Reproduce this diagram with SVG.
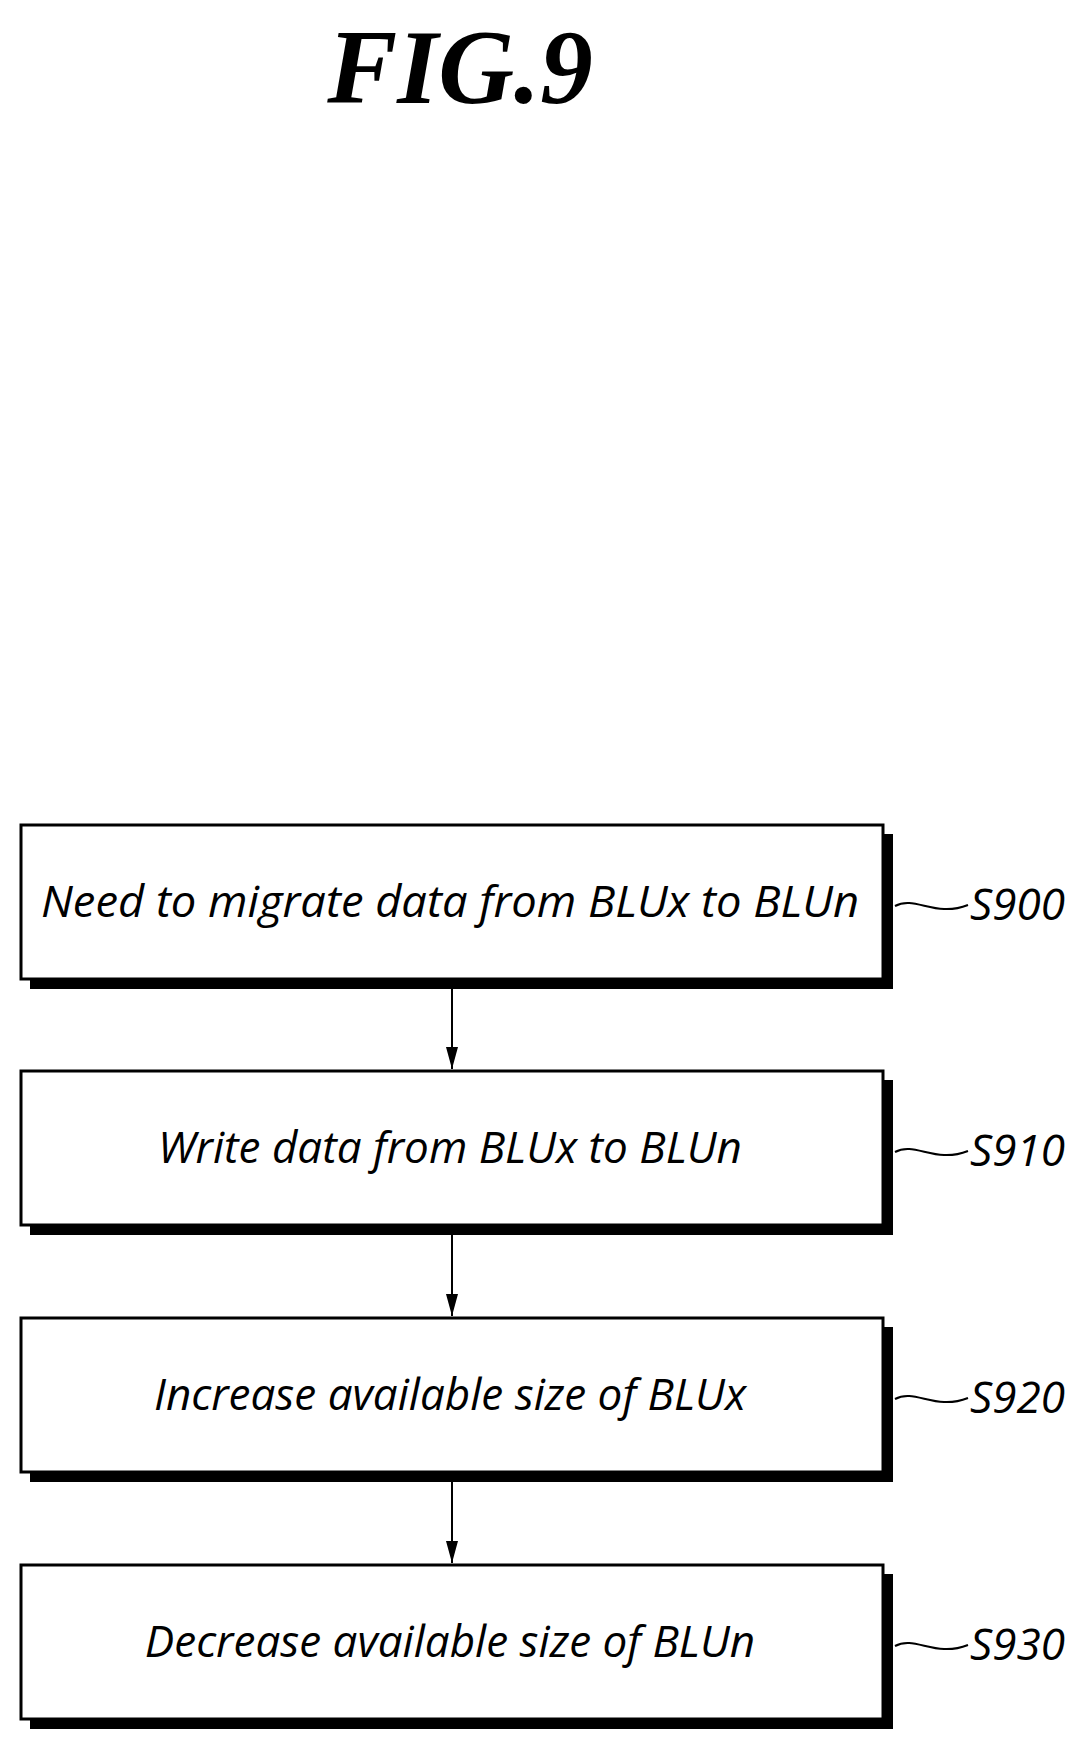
<svg xmlns="http://www.w3.org/2000/svg" width="1085" height="1752" viewBox="0 0 1085 1752">
<defs>
<style>
.box{fill:#fff;stroke:#000;stroke-width:3}
.sh{fill:#000}
.t{font-family:"Open Sans","DejaVu Sans",sans-serif;font-style:italic;font-size:44px;text-anchor:middle}
.l{font-family:"Open Sans","DejaVu Sans",sans-serif;font-style:italic;font-size:44px}
.c{stroke:#000;stroke-width:2;fill:none}
</style>
<marker id="a" markerWidth="22" markerHeight="12" refX="22" refY="6" orient="auto" markerUnits="userSpaceOnUse" viewBox="0 0 22 12"><path d="M0,0 L22,6 L0,12 Z" fill="#000"/></marker>
</defs>
<rect width="1085" height="1752" fill="#fff"/>
<text x="460" y="103" font-family="Liberation Serif,serif" font-style="italic" font-weight="bold" font-size="105" text-anchor="middle">FIG.9</text>
<g id="connectors">
<line class="c" x1="452" y1="988" x2="452" y2="1069" marker-end="url(#a)"/>
<line class="c" x1="452" y1="1234" x2="452" y2="1316" marker-end="url(#a)"/>
<line class="c" x1="452" y1="1481" x2="452" y2="1563" marker-end="url(#a)"/>
</g>
<g id="s900"><rect class="sh" x="30" y="834" width="863" height="155"/><rect class="box" x="21" y="825" width="862" height="154"/><text class="t" x="450" y="917" textLength="818" lengthAdjust="spacingAndGlyphs">Need to migrate data from BLUx to BLUn</text><path class="c" d="M895,906 C915,895 935,918 968,905"/><text class="l" x="970" y="920">S900</text></g>
<g id="s910"><rect class="sh" x="30" y="1080" width="863" height="155"/><rect class="box" x="21" y="1071" width="862" height="154"/><text class="t" x="450" y="1163">Write data from BLUx to BLUn</text><path class="c" d="M895,1152 C915,1141 935,1164 968,1151"/><text class="l" x="970" y="1166">S910</text></g>
<g id="s920"><rect class="sh" x="30" y="1327" width="863" height="155"/><rect class="box" x="21" y="1318" width="862" height="154"/><text class="t" x="450" y="1410">Increase available size of BLUx</text><path class="c" d="M895,1399 C915,1388 935,1411 968,1398"/><text class="l" x="970" y="1413">S920</text></g>
<g id="s930"><rect class="sh" x="30" y="1574" width="863" height="155"/><rect class="box" x="21" y="1565" width="862" height="154"/><text class="t" x="450" y="1657">Decrease available size of BLUn</text><path class="c" d="M895,1646 C915,1635 935,1658 968,1645"/><text class="l" x="970" y="1660">S930</text></g>
</svg>
